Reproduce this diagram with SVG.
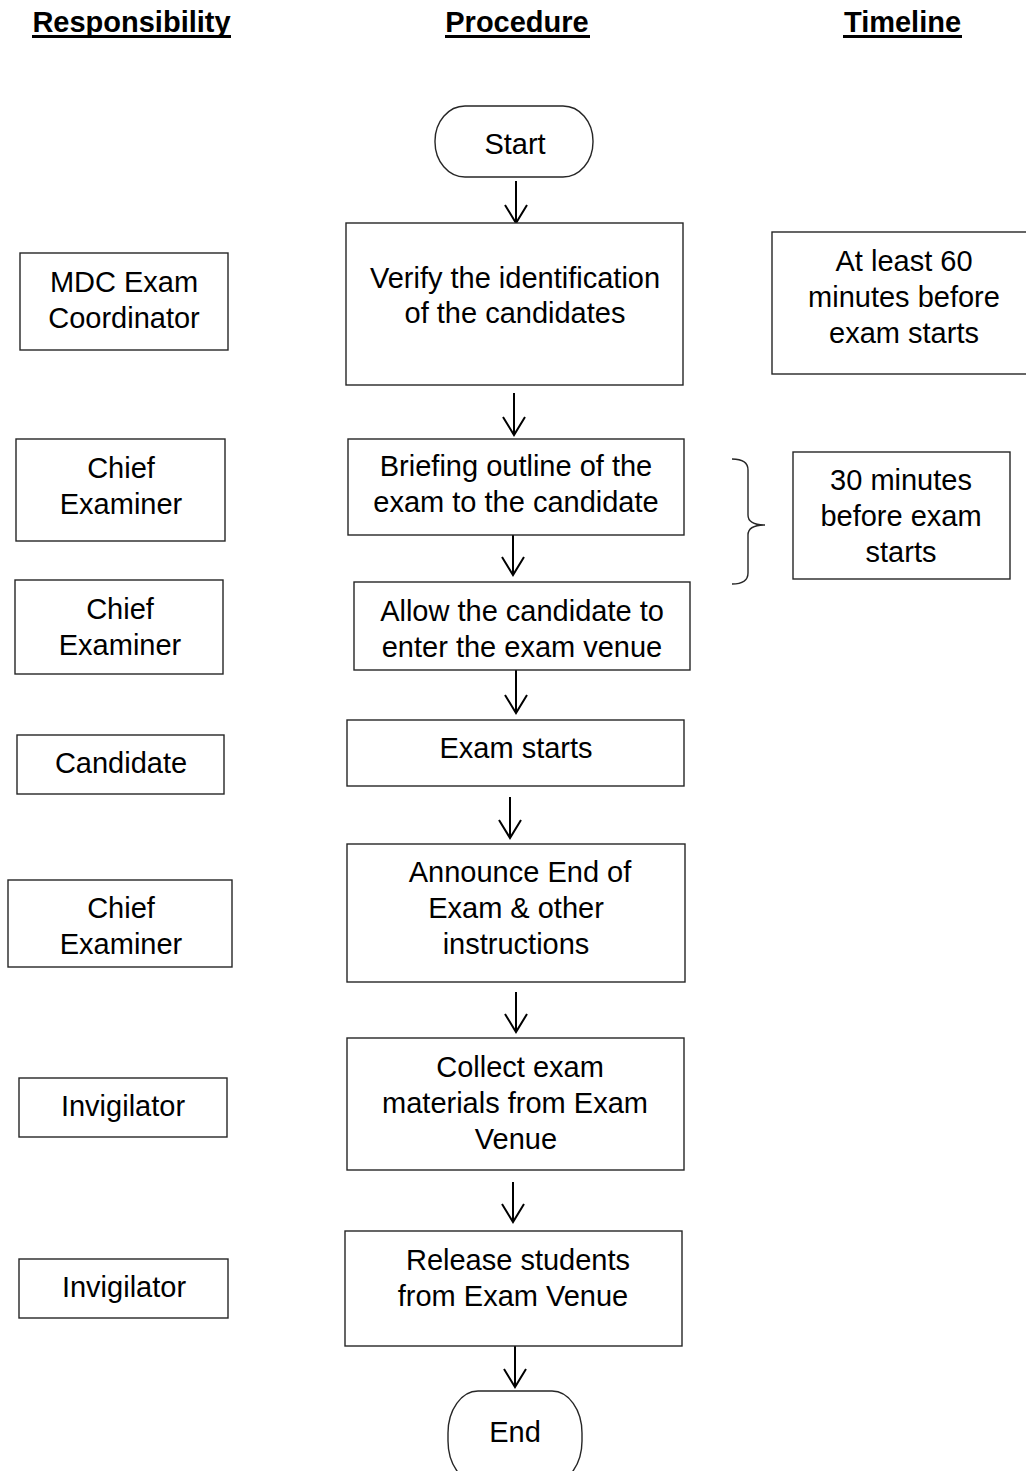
<svg xmlns="http://www.w3.org/2000/svg" width="1026" height="1471" viewBox="0 0 1026 1471">
<style>
.bg{fill:#ffffff}
.box{fill:#ffffff;stroke:#262626;stroke-width:1.4}
.t{font-family:"Liberation Sans",Arial,sans-serif;font-size:29px;fill:#000;text-anchor:middle}
.h{font-family:"Liberation Sans",Arial,sans-serif;font-size:29px;font-weight:bold;fill:#000;text-anchor:middle}
.ul{fill:#000}
.c{fill:none;stroke:#000;stroke-width:2}
.br{fill:none;stroke:#262626;stroke-width:1.4}
</style>
<rect class="bg" x="0" y="0" width="1026" height="1471"/>
<g id="headers">
<text class="h" x="131.5" y="32">Responsibility</text>
<rect class="ul" x="32" y="35" width="199" height="3"/>
<text class="h" x="517" y="32">Procedure</text>
<rect class="ul" x="445" y="35" width="145" height="3"/>
<text class="h" x="902.5" y="32">Timeline</text>
<rect class="ul" x="843" y="35" width="119" height="3"/>
</g>
<g id="connectors">
<path class="c" d="M516,181 V223 M505,205 L516,223 L527,205"/>
<path class="c" d="M514,393 V435 M503,417 L514,435 L525,417"/>
<path class="c" d="M513,535 V575 M502,557 L513,575 L524,557"/>
<path class="c" d="M516,670 V713 M505,695 L516,713 L527,695"/>
<path class="c" d="M510,797 V838 M499,820 L510,838 L521,820"/>
<path class="c" d="M516,992 V1032 M505,1014 L516,1032 L527,1014"/>
<path class="c" d="M513,1182 V1222 M502,1204 L513,1222 L524,1204"/>
<path class="c" d="M515,1346 V1387 M504,1369 L515,1387 L526,1369"/>
</g>
<g id="start">
<rect class="box" x="435" y="106" width="158" height="71" rx="30" ry="35"/>
<text class="t" x="515" y="154">Start</text>
</g>
<g id="verify">
<rect class="box" x="346" y="223" width="337" height="162"/>
<text class="t" x="515" y="288">Verify the identification</text>
<text class="t" x="515" y="323">of the candidates</text>
</g>
<g id="briefing">
<rect class="box" x="348" y="439" width="336" height="96"/>
<text class="t" x="516" y="476">Briefing outline of the</text>
<text class="t" x="516" y="512">exam to the candidate</text>
</g>
<g id="allow">
<rect class="box" x="354" y="582" width="336" height="88"/>
<text class="t" x="522" y="621">Allow the candidate to</text>
<text class="t" x="522" y="657">enter the exam venue</text>
</g>
<g id="examstarts">
<rect class="box" x="347" y="720" width="337" height="66"/>
<text class="t" x="516" y="758">Exam starts</text>
</g>
<g id="announce">
<rect class="box" x="347" y="844" width="338" height="138"/>
<text class="t" x="520" y="882">Announce End of</text>
<text class="t" x="516" y="918">Exam &amp; other</text>
<text class="t" x="516" y="954">instructions</text>
</g>
<g id="collect">
<rect class="box" x="347" y="1038" width="337" height="132"/>
<text class="t" x="520" y="1077">Collect exam</text>
<text class="t" x="515" y="1113">materials from Exam</text>
<text class="t" x="516" y="1149">Venue</text>
</g>
<g id="release">
<rect class="box" x="345" y="1231" width="337" height="115"/>
<text class="t" x="518" y="1270">Release students</text>
<text class="t" x="513" y="1306">from Exam Venue</text>
</g>
<g id="end">
<rect class="box" x="448" y="1391" width="134" height="92" rx="30" ry="42"/>
<text class="t" x="515" y="1442">End</text>
</g>
<g id="r-mdc">
<rect class="box" x="20" y="253" width="208" height="97"/>
<text class="t" x="124" y="292">MDC Exam</text>
<text class="t" x="124" y="328">Coordinator</text>
</g>
<g id="r-chief1">
<rect class="box" x="16" y="439" width="209" height="102"/>
<text class="t" x="121" y="478">Chief</text>
<text class="t" x="121" y="514">Examiner</text>
</g>
<g id="r-chief2">
<rect class="box" x="15" y="580" width="208" height="94"/>
<text class="t" x="120" y="619">Chief</text>
<text class="t" x="120" y="655">Examiner</text>
</g>
<g id="r-candidate">
<rect class="box" x="17" y="735" width="207" height="59"/>
<text class="t" x="121" y="773">Candidate</text>
</g>
<g id="r-chief3">
<rect class="box" x="8" y="880" width="224" height="87"/>
<text class="t" x="121" y="918">Chief</text>
<text class="t" x="121" y="954">Examiner</text>
</g>
<g id="r-invig1">
<rect class="box" x="19" y="1078" width="208" height="59"/>
<text class="t" x="123" y="1116">Invigilator</text>
</g>
<g id="r-invig2">
<rect class="box" x="19" y="1259" width="209" height="59"/>
<text class="t" x="124" y="1297">Invigilator</text>
</g>
<g id="t-60">
<rect class="box" x="772" y="232" width="260" height="142"/>
<text class="t" x="904" y="271">At least 60</text>
<text class="t" x="904" y="307">minutes before</text>
<text class="t" x="904" y="343">exam starts</text>
</g>
<g id="bracket">
<path class="br" d="M732,459 Q748,459 748,470 V515 Q748,525 765,525 Q748,525 748,535 V573 Q748,584 732,584"/>
</g>
<g id="t-30">
<rect class="box" x="793" y="452" width="217" height="127"/>
<text class="t" x="901" y="490">30 minutes</text>
<text class="t" x="901" y="526">before exam</text>
<text class="t" x="901" y="562">starts</text>
</g>
</svg>
